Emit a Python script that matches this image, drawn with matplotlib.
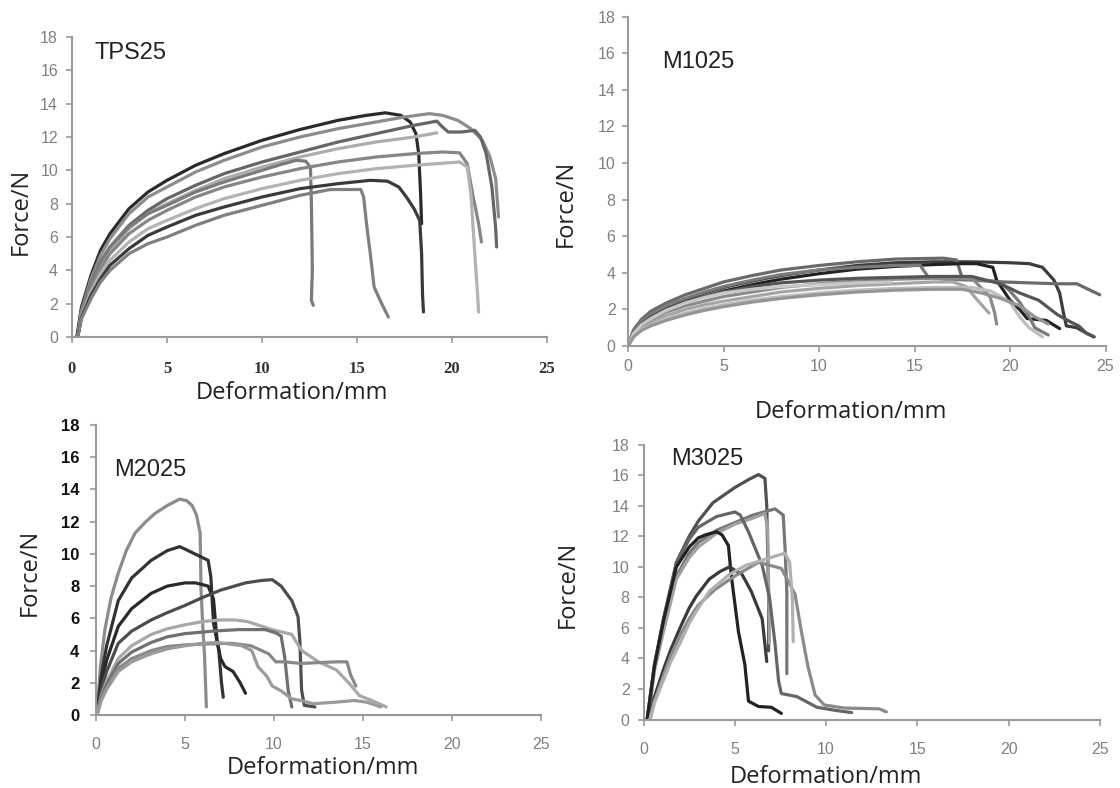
import matplotlib
matplotlib.use('Agg')
import matplotlib.pyplot as plt

# ---- data: force (N) vs deformation (mm), one list per specimen ----
tps25_x = [
    [0.25, 0.5, 1, 1.5, 2, 3, 4, 5, 6.5, 8, 10, 12, 14, 15.5, 16.5, 17.3, 17.8, 18.1, 18.25, 18.35, 18.4],
    [0.3, 0.5, 1, 1.5, 2, 3, 4, 5, 6.5, 8, 10, 12, 14, 16, 17.5, 18.8, 19.5, 20.3, 21.0, 21.6, 22.0, 22.3, 22.45],
    [0.3, 0.5, 1, 1.5, 2, 3, 4, 5, 6.5, 8, 10, 12, 14, 16, 18, 19.2, 19.5, 19.8, 20.5, 21.2, 21.5, 21.8, 22.1, 22.3, 22.35],
    [0.3, 0.5, 1, 1.5, 2, 3, 4, 5, 6.5, 8, 10, 12, 14, 16, 18, 19.2],
    [0.3, 0.5, 1, 1.5, 2, 3, 4, 5, 6.5, 8, 10, 11, 11.8, 12.3, 12.55, 12.6, 12.65, 12.6, 12.7],
    [0.3, 0.5, 1, 1.5, 2, 3, 4, 5, 6.5, 8, 10, 12, 14, 16, 18, 19.5, 20.4, 20.8, 21.1, 21.4, 21.55],
    [0.3, 0.5, 1, 1.5, 2, 3, 4, 5, 6.5, 8, 10, 12, 14, 16, 18, 20.4, 20.8, 21.0, 21.2, 21.35, 21.4],
    [0.3, 0.5, 1, 1.5, 2, 3, 4, 5, 6.5, 8, 10, 12, 14, 15.7, 16.6, 17.2, 17.6, 18.0, 18.3, 18.4, 18.45, 18.5],
    [0.3, 0.5, 1, 1.5, 2, 3, 4, 5, 6.5, 8, 10, 12, 13.6, 15.2, 15.35, 15.5, 15.7, 15.9, 16.3, 16.65],
]
tps25_y = [
    [0, 1.8, 3.7, 5.2, 6.2, 7.7, 8.7, 9.4, 10.3, 11.0, 11.8, 12.45, 13.0, 13.3, 13.45, 13.3, 12.9, 12.2, 11, 8.5, 6.8],
    [0, 1.6, 3.5, 4.9, 5.9, 7.4, 8.4, 9.0, 9.9, 10.6, 11.4, 12.0, 12.5, 12.9, 13.2, 13.4, 13.3, 13.0, 12.5, 11.8, 10.8, 9.5, 7.2],
    [0, 1.5, 3.2, 4.5, 5.4, 6.7, 7.6, 8.3, 9.1, 9.8, 10.5, 11.1, 11.7, 12.2, 12.7, 12.95, 12.6, 12.3, 12.3, 12.4, 12.0, 11.0, 9.0, 6.5, 5.4],
    [0, 1.4, 3.0, 4.3, 5.2, 6.5, 7.4, 8.0, 8.8, 9.5, 10.2, 10.8, 11.3, 11.7, 12.0, 12.25],
    [0, 1.5, 3.2, 4.5, 5.4, 6.6, 7.4, 7.9, 8.7, 9.3, 10.0, 10.35, 10.6, 10.55, 10.2, 8, 4, 2.2, 1.9],
    [0, 1.4, 2.9, 4.1, 5.0, 6.2, 7.0, 7.6, 8.4, 9.0, 9.6, 10.1, 10.5, 10.8, 11.0, 11.1, 11.05, 10.4, 8.5, 6.8, 5.7],
    [0, 1.3, 2.7, 3.8, 4.6, 5.7, 6.5, 7.0, 7.7, 8.3, 8.9, 9.4, 9.8, 10.1, 10.3, 10.5, 10.2, 8.5, 5, 2.5, 1.5],
    [0, 1.2, 2.5, 3.5, 4.3, 5.3, 6.1, 6.6, 7.3, 7.8, 8.4, 8.9, 9.2, 9.4, 9.35, 9.0, 8.4, 7.7, 7.0, 5, 2.5, 1.5],
    [0, 1.1, 2.3, 3.3, 4.0, 5.0, 5.6, 6.0, 6.7, 7.3, 7.9, 8.5, 8.85, 8.85, 8.4, 6.8, 5.0, 3.0, 2.0, 1.2],
]
tps25_colors = ['#2a2a2a', '#8c8c8c', '#666666', '#adadad', '#7a7a7a', '#868686', '#b3b3b3', '#3a3a3a', '#808080']

m1025_x = [
    [0, 0.3, 0.7, 1.2, 2, 3, 4, 5, 6.5, 8, 10, 12, 14, 16, 18, 20, 21, 21.7, 22.3, 22.6, 22.8, 22.95, 23.5, 24.0, 24.4],
    [0, 0.3, 0.7, 1.2, 2, 3, 4, 5, 6.5, 8, 10, 12, 14, 16.5, 17.2, 17.5, 18.5, 19.65, 21, 22.5, 23.5, 24.3, 24.7],
    [0, 0.3, 0.7, 1.2, 2, 3, 4, 5, 6.5, 8, 10, 12, 14, 16, 17.5, 18.25, 19.1, 19.3, 20.0, 20.5, 20.9, 21.9, 22.6],
    [0, 0.3, 0.7, 1.2, 2, 3, 4, 5, 6.5, 8, 10, 12, 14, 15.3, 15.7, 16.5, 18, 19.5, 20.0, 20.5, 21.0, 21.3, 22.0],
    [0, 0.3, 0.7, 1.2, 2, 3, 4, 5, 6.5, 8, 10, 12, 14, 16, 17, 17.7, 18.3, 18.9],
    [0, 0.3, 0.7, 1.2, 2, 3, 4, 5, 6.5, 8, 10, 12, 14, 16, 18, 18.95, 19.2, 19.3],
    [0, 0.3, 0.7, 1.2, 2, 3, 4, 5, 6.5, 8, 10, 12, 14, 16, 18, 19, 20, 20.5, 21, 21.7],
    [0, 0.3, 0.7, 1.2, 2, 3, 4, 5, 6.5, 8, 10, 12, 14, 16, 18, 19.5, 20.5, 21.5, 22.5, 23.2, 23.6, 24.0, 24.4],
    [0, 0.3, 0.7, 1.2, 2, 3, 4, 5, 6.5, 8, 10, 12, 13.8],
    [0, 0.3, 0.7, 1.2, 2, 3, 4, 5, 6.5, 8, 10, 12, 14, 16, 17.5, 18.5, 19.5, 20.5, 21.3, 22.0],
]
m1025_y = [
    [0, 0.8, 1.3, 1.7, 2.15, 2.55, 2.9, 3.2, 3.55, 3.85, 4.15, 4.4, 4.55, 4.6, 4.6, 4.55, 4.5, 4.3, 3.6, 2.9, 1.8, 1.1, 1.0, 0.7, 0.5],
    [0, 0.9, 1.45, 1.9, 2.35, 2.8, 3.15, 3.5, 3.85, 4.15, 4.4, 4.6, 4.75, 4.8, 4.7, 3.7, 3.6, 3.5, 3.45, 3.4, 3.4, 3.0, 2.8],
    [0, 0.7, 1.2, 1.55, 2.0, 2.4, 2.7, 3.0, 3.35, 3.65, 3.95, 4.2, 4.35, 4.45, 4.5, 4.5, 4.3, 3.6, 2.5, 2.0, 1.5, 1.4, 0.95],
    [0, 0.85, 1.35, 1.75, 2.2, 2.6, 2.95, 3.25, 3.6, 3.9, 4.15, 4.3, 4.4, 4.4, 3.8, 3.65, 3.6, 3.5, 3.0, 2.4, 1.6, 1.0, 0.6],
    [0, 0.6, 1.0, 1.3, 1.65, 2.0, 2.25, 2.45, 2.7, 2.95, 3.15, 3.3, 3.4, 3.5, 3.5, 3.25, 2.5, 1.8],
    [0, 0.7, 1.1, 1.45, 1.85, 2.2, 2.45, 2.7, 2.95, 3.2, 3.4, 3.55, 3.65, 3.7, 3.7, 2.7, 1.8, 1.2],
    [0, 0.55, 0.9, 1.15, 1.5, 1.8, 2.05, 2.25, 2.5, 2.7, 2.9, 3.05, 3.15, 3.2, 3.2, 3.0, 2.4, 1.6, 1.0, 0.5],
    [0, 0.75, 1.2, 1.6, 2.0, 2.4, 2.7, 2.95, 3.25, 3.45, 3.6, 3.7, 3.75, 3.8, 3.8, 3.4, 2.9, 2.5, 1.7, 1.3, 1.1, 0.7, 0.5],
    [0, 0.7, 1.15, 1.5, 1.95, 2.35, 2.65, 2.9, 3.1, 3.25, 3.35, 3.45, 3.5],
    [0, 0.5, 0.85, 1.1, 1.4, 1.7, 1.95, 2.15, 2.4, 2.6, 2.8, 2.95, 3.05, 3.1, 3.1, 2.9, 2.6, 2.2, 1.6, 1.2],
]
m1025_colors = ['#3c3c3c', '#6a6a6a', '#222222', '#7a7a7a', '#a5a5a5', '#8a8a8a', '#bdbdbd', '#555555', '#c8c8c8', '#959595']

m2025_x = [
    [0.05, 0.25, 0.5, 0.85, 1.25, 1.7, 2.2, 2.8, 3.3, 4.0, 4.7, 5.1, 5.4, 5.65, 5.85, 5.9, 6.0, 6.1, 6.2],
    [0.05, 0.3, 0.6, 1.25, 2.0, 3.1, 4.0, 4.7, 5.0, 5.55, 6.3, 6.45, 6.6, 6.9, 7.05, 7.15],
    [0.05, 0.3, 0.6, 1.25, 2.0, 3.1, 4.0, 5.0, 5.6, 6.3, 6.6, 6.8, 7.0, 7.25, 7.7, 8.1, 8.4],
    [0.05, 0.3, 0.6, 1.25, 2.0, 3.1, 4.0, 5.0, 6.0, 7.0, 8.4, 9.3, 9.9, 10.4, 11.0, 11.35, 11.45, 11.55, 11.7, 12.3],
    [0.05, 0.3, 0.6, 1.25, 2.0, 3.1, 4.0, 5.0, 6.0, 7.0, 7.8, 8.5, 9.9, 11.0, 11.55, 12.5, 13.5, 14.2, 14.8, 15.5, 16.3],
    [0.05, 0.3, 0.6, 1.25, 2.0, 3.1, 4.0, 5.0, 6.5, 8.0, 9.5, 10.1, 10.4, 10.6, 10.8, 11.0],
    [0.05, 0.3, 0.6, 1.25, 2.0, 3.1, 4.0, 5.0, 6.0, 7.6, 8.7, 9.7, 10.1, 10.6, 11.5, 12.5, 13.5, 14.1, 14.3, 14.6],
    [0.05, 0.3, 0.6, 1.25, 2.0, 3.1, 4.0, 5.0, 6.0, 6.8, 7.5, 8.2, 8.75, 9.1, 9.6, 9.9, 10.4, 11.0, 11.5, 12.2, 13.5, 14.5, 15.2, 16.0],
]
m2025_y = [
    [0, 3.0, 5.3, 7.3, 8.8, 10.2, 11.3, 12.0, 12.5, 13.0, 13.4, 13.3, 13.0, 12.4, 11.3, 7.8, 5.5, 3.6, 0.5],
    [0, 2.5, 4.3, 7.1, 8.5, 9.6, 10.2, 10.45, 10.3, 10.0, 9.6, 8.6, 5.7, 4.0, 2.0, 1.1],
    [0, 2.0, 3.4, 5.5, 6.6, 7.55, 8.0, 8.2, 8.2, 8.0, 7.2, 4.65, 3.5, 3.0, 2.7, 2.0, 1.35],
    [0, 1.6, 2.7, 4.45, 5.2, 5.9, 6.35, 6.8, 7.3, 7.75, 8.2, 8.35, 8.4, 8.0, 7.1, 6.1, 4.65, 1.55, 0.6, 0.5],
    [0, 1.2, 2.1, 3.5, 4.3, 5.0, 5.35, 5.6, 5.8, 5.9, 5.9, 5.8, 5.3, 5.0, 4.0, 3.3, 2.8, 2.0, 1.2, 0.9, 0.5],
    [0, 1.1, 1.9, 3.2, 3.9, 4.5, 4.85, 5.05, 5.2, 5.3, 5.3, 5.1, 4.9, 3.6, 1.5, 0.5],
    [0, 1.0, 1.7, 2.9, 3.5, 4.0, 4.25, 4.35, 4.4, 4.45, 4.3, 3.8, 3.3, 3.3, 3.2, 3.25, 3.3, 3.3, 2.5, 1.8],
    [0, 0.9, 1.6, 2.7, 3.3, 3.8, 4.1, 4.3, 4.45, 4.5, 4.4, 4.3, 4.0, 3.0, 2.4, 1.8, 1.5, 1.0, 0.9, 0.7, 0.8, 0.9, 0.8, 0.5],
]
m2025_colors = ['#8c8c8c', '#333333', '#2a2a2a', '#4d4d4d', '#a8a8a8', '#707070', '#888888', '#9a9a9a']

m3025_x = [
    [0.2, 0.6, 1.1, 1.8, 2.5, 3.0, 3.8, 5.0, 5.8, 6.3, 6.65, 6.75, 6.8, 6.85, 6.85],
    [0.25, 0.6, 1.1, 1.8, 2.5, 3.0, 4.0, 5.0, 6.0, 6.6, 7.2, 7.65, 7.75, 7.85, 7.85],
    [0.25, 0.6, 1.1, 1.8, 2.5, 3.0, 4.0, 5.0, 6.0, 6.65, 6.8, 6.85, 6.9],
    [0.2, 0.6, 1.1, 1.8, 2.5, 3.0, 4.0, 5.0, 5.3, 5.75, 6.5, 6.9, 7.2, 7.4, 7.55, 8.4, 9.5, 10.5, 11.4],
    [0.2, 0.6, 1.1, 1.8, 2.5, 3.0, 3.4, 4.0, 4.3, 4.65, 4.8, 5.2, 5.55, 5.75, 6.3, 7.0, 7.55],
    [0.35, 0.55, 1.1, 1.5, 2.0, 2.5, 2.9, 3.6, 4.2, 4.7, 5.4, 5.9, 6.5, 6.75],
    [0.35, 0.6, 1.1, 1.5, 2.0, 2.5, 3.0, 3.9, 5.0, 6.3, 7.55, 8.3, 8.65, 9.0, 9.4, 9.9, 11.0, 12.9, 13.3],
    [0.35, 0.6, 1.1, 1.5, 2.0, 2.5, 2.9, 3.6, 4.7, 5.6, 6.55, 7.2, 7.75, 8.0, 8.15, 8.2],
]
m3025_y = [
    [0, 3.6, 6.6, 10.3, 12.0, 13.0, 14.2, 15.2, 15.75, 16.05, 15.8, 14, 11, 8, 4.5],
    [0, 3.3, 6.0, 9.4, 10.9, 11.6, 12.4, 12.9, 13.4, 13.6, 13.8, 13.4, 11.3, 8.3, 3.0],
    [0, 3.2, 5.8, 9.2, 10.6, 11.3, 12.2, 12.8, 13.2, 13.5, 12.5, 9.0, 5.0],
    [0, 3.6, 6.6, 10.2, 11.8, 12.6, 13.3, 13.6, 13.4, 12.3, 10.1, 8.0, 5.0, 2.5, 1.7, 1.5, 0.8, 0.6, 0.45],
    [0, 3.5, 6.5, 10.0, 11.3, 11.9, 12.1, 12.3, 12.1, 11.4, 9.5, 5.75, 3.6, 1.2, 0.85, 0.8, 0.4],
    [0, 1.3, 3.3, 4.6, 6.0, 7.3, 8.1, 9.2, 9.7, 10.0, 9.5, 8.4, 6.6, 3.8],
    [0, 1.2, 2.9, 4.2, 5.5, 6.6, 7.5, 8.5, 9.4, 10.3, 9.9, 8.2, 5.75, 3.5, 1.6, 0.95, 0.75, 0.7, 0.5],
    [0, 1.1, 2.6, 3.8, 5.0, 6.3, 7.1, 8.4, 9.5, 10.1, 10.45, 10.7, 10.9, 10.3, 8.0, 5.1],
]
m3025_colors = ['#505050', '#777777', '#a0a0a0', '#666666', '#222222', '#3a3a3a', '#8a8a8a', '#b0b0b0']

x_ticks = [0, 5, 10, 15, 20, 25]
y_ticks = [0, 2, 4, 6, 8, 10, 12, 14, 16, 18]

W, H = 1120, 788
fig = plt.figure(figsize=(W / 100, H / 100), dpi=100)

# panel boxes in pixels: (x of 0, x of 25, y of 0, y of 18)
panels = [
    dict(name='TPS25', xs=tps25_x, ys=tps25_y, cols=tps25_colors, box=(72, 547, 337, 37),
         name_pos=(1.2, 16.7), xl=(0.463, -0.187), yl=(-0.107, 0.417), xpad=13, ypad=6,
         xtick_style=dict(family='Liberation Serif', weight='bold', color='#333333', size=12),
         ytick_style=dict(color='#808080', size=11.5)),
    dict(name='M1025', xs=m1025_x, ys=m1025_y, cols=m1025_colors, box=(628, 1105.5, 346, 16.6),
         name_pos=(1.8, 15.2), xl=(0.467, -0.2), yl=(-0.13, 0.434), xpad=5, ypad=5,
         xtick_style=dict(color='#808080', size=11.5),
         ytick_style=dict(color='#808080', size=11.5)),
    dict(name='M2025', xs=m2025_x, ys=m2025_y, cols=m2025_colors, box=(96, 541, 715, 425),
         name_pos=(1.0, 14.85), xl=(0.51, -0.183), yl=(-0.148, 0.493), xpad=12, ypad=8,
         xtick_style=dict(color='#808080', size=11.5),
         ytick_style=dict(color='#111111', size=12, weight='bold')),
    dict(name='M3025', xs=m3025_x, ys=m3025_y, cols=m3025_colors, box=(643.5, 1100, 719.5, 444.8),
         name_pos=(1.5, 16.7), xl=(0.4, -0.209), yl=(-0.165, 0.49), xpad=12, ypad=6,
         xtick_style=dict(color='#808080', size=11.5),
         ytick_style=dict(color='#808080', size=11.5)),
]

for p in panels:
    x0, x1, y0, y1 = p['box']
    ax = fig.add_axes([x0 / W, 1 - y0 / H, (x1 - x0) / W, (y0 - y1) / H])
    for xs, ys, c in zip(p['xs'], p['ys'], p['cols']):
        ax.plot(xs, ys, color=c, lw=2.3, solid_capstyle='round', solid_joinstyle='round')
    ax.set_xlim(0, 25)
    ax.set_ylim(0, 18)
    ax.set_xticks(x_ticks)
    ax.set_yticks(y_ticks)
    ax.set_xticklabels([str(t) for t in x_ticks], fontfamily=p['xtick_style'].get('family', 'Liberation Sans'),
                       fontweight=p['xtick_style'].get('weight', 'normal'),
                       color=p['xtick_style']['color'], fontsize=p['xtick_style']['size'])
    ax.set_yticklabels([str(t) for t in y_ticks], fontfamily='Liberation Sans',
                       fontweight=p['ytick_style'].get('weight', 'normal'),
                       color=p['ytick_style']['color'], fontsize=p['ytick_style']['size'])
    for s in ['top', 'right']:
        ax.spines[s].set_visible(False)
    for s in ['left', 'bottom']:
        ax.spines[s].set_color('#9a9a9a')
        ax.spines[s].set_linewidth(1.5)
    ax.tick_params(axis='both', direction='out', length=4, width=1.2, color='#9a9a9a')
    ax.tick_params(axis='x', pad=p['xpad'])
    ax.tick_params(axis='y', pad=p['ypad'])
    ax.set_xlabel('Deformation/mm', fontfamily='Open Sans', fontsize=17, color='#222222')
    ax.set_ylabel('Force/N', fontfamily='Open Sans', fontsize=17, color='#222222')
    ax.xaxis.set_label_coords(*p['xl'])
    ax.yaxis.set_label_coords(*p['yl'])
    ax.xaxis.label.set_va('center')
    ax.yaxis.label.set_va('center')
    ax.text(p['name_pos'][0], p['name_pos'][1], p['name'], fontfamily='Liberation Sans',
            fontsize=17, color='#222222', va='baseline', ha='left')
    ax.patch.set_alpha(0)

fig.savefig('out.png', dpi=100, facecolor='white')
